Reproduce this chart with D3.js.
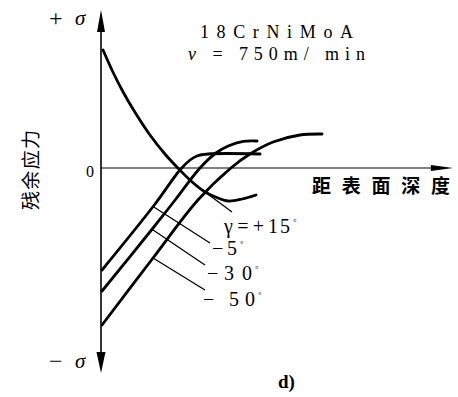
<!DOCTYPE html>
<html>
<head>
<meta charset="utf-8" />
<title>残余应力</title>
<script src="https://d3js.org/d3.v7.min.js"></script>
<style>
  body { margin: 0; background: #fff; }
  svg { display: block; }
</style>
</head>
<body>
<script>
// curves: [depth, stress] (arbitrary units)
const curveP15 = [[0.06, 5.9], [0.35, 4.8], [0.65, 3.8], [0.94, 2.95], [1.44, 1.65], [1.88, 0.7],
                  [2.26, 0], [2.68, -0.7], [3.06, -1.2], [3.44, -1.5], [3.74, -1.65], [4.15, -1.55], [4.56, -1.35]];
const curveM5  = [[0.03, -5.1], [1.59, -1.8], [2.32, -0.1], [2.62, 0.4], [2.82, 0.6], [3.15, 0.7], [4.68, 0.7]];
const curveM30 = [[0.03, -6.15], [1.53, -3.0], [2.18, -1.6], [2.91, 0], [3.38, 0.75], [3.74, 1.1], [4.18, 1.33], [4.59, 1.35]];
const curveM50 = [[0.03, -7.85], [1.53, -4.5], [2.85, -1.6], [3.82, 0], [4.38, 0.7], [5.06, 1.3], [5.85, 1.65], [6.5, 1.7]];

const anglePrefix = ["γ = +", "−", "−", "−"];
const angleValues = ["15", "5", "30", "50"];
const leaderDepth = [3.06, 1.53, 1.5, 1.53];
const titleLines = ["18CrNiMoA", "v = 750m/ min"];

const width = 458, height = 397;
const SERIF = '"Liberation Serif", "DejaVu Serif", "Times New Roman", serif';
const CJK = '"Noto Sans CJK SC", sans-serif';

const svg = d3.select("body").append("svg")
  .attr("width", width)
  .attr("height", height);

svg.append("rect").attr("width", width).attr("height", height).attr("fill", "#fff");

const x = d3.scaleLinear().domain([0, 10.35]).range([101, 453]);
const y = d3.scaleLinear().domain([-10.25, 7.9]).range([373, 10]);

// axes
svg.append("line")
  .attr("x1", x(0)).attr("x2", x(0))
  .attr("y1", y(7.6)).attr("y2", y(-9.9))
  .attr("stroke", "#000").attr("stroke-width", 1.6);
svg.append("line")
  .attr("x1", x(0)).attr("x2", x(9.8))
  .attr("y1", y(0)).attr("y2", y(0))
  .attr("stroke", "#000").attr("stroke-width", 1);

// arrow heads
const tri = (pts) => "M" + pts.map(p => p.join(",")).join("L") + "Z";
svg.append("path").attr("d", tri([[x(0), y(7.9)], [x(0) - 4, y(6.8)], [x(0) + 4, y(6.8)]])).attr("fill", "#000");
svg.append("path").attr("d", tri([[x(0), y(-10.25)], [x(0) - 4.5, y(-9.2)], [x(0) + 4.5, y(-9.2)]])).attr("fill", "#000");
svg.append("path").attr("d", tri([[x(10.35), y(0)], [x(9.7), y(0) - 3], [x(9.7), y(0) + 3]])).attr("fill", "#000");

// curves
const line = d3.line()
  .x(d => x(d[0]))
  .y(d => y(d[1]))
  .curve(d3.curveCatmullRom.alpha(0.5));

const curves = [curveP15, curveM5, curveM30, curveM50];
svg.append("g")
  .selectAll("path")
  .data(curves)
  .join("path")
  .attr("d", line)
  .attr("fill", "none")
  .attr("stroke", "#000")
  .attr("stroke-width", 2.8)
  .attr("stroke-linecap", "round");

// point on curve at given depth (linear between read points)
function stressAt(c, d) {
  for (let i = 1; i < c.length; i++) {
    if (d <= c[i][0]) {
      const t = (d - c[i - 1][0]) / (c[i][0] - c[i - 1][0]);
      return c[i - 1][1] + t * (c[i][1] - c[i - 1][1]);
    }
  }
  return c[c.length - 1][1];
}

// leader lines and angle labels
const leaderEnds = [[232, 212], [210, 243], [205, 265], [205, 290]];
// [prefix x, baseline, prefix width, number x, number width]
const labelPos = [[224, 233, 40, 268, 22], [212, 255, 0, 227, 10], [207, 280, 0, 224, 28], [203, 306, 0, 229, 26]];

curves.forEach(function (c, i) {
  svg.append("line")
    .attr("x1", x(leaderDepth[i])).attr("y1", y(stressAt(c, leaderDepth[i])))
    .attr("x2", leaderEnds[i][0]).attr("y2", leaderEnds[i][1])
    .attr("stroke", "#000").attr("stroke-width", 1.3);
  const p = labelPos[i];
  const pre = svg.append("text")
    .attr("font-family", SERIF)
    .attr("x", p[0]).attr("y", p[1])
    .attr("font-size", 20)
    .text(anglePrefix[i]);
  if (p[2]) pre.attr("textLength", p[2]).attr("lengthAdjust", "spacing");
  svg.append("text")
    .attr("font-family", SERIF)
    .attr("x", p[3]).attr("y", p[1])
    .attr("font-size", 20)
    .attr("textLength", p[4]).attr("lengthAdjust", "spacing")
    .text(angleValues[i]);
  svg.append("text")
    .attr("font-family", SERIF)
    .attr("x", p[3] + p[4] + 3).attr("y", p[1] - 8)
    .attr("font-size", 9)
    .text("°");
});

// axis end labels
svg.append("text").attr("font-family", SERIF)
  .attr("x", 49).attr("y", 26).attr("font-size", 24)
  .text("+");
svg.append("text").attr("font-family", SERIF)
  .attr("x", 75).attr("y", 25).attr("font-size", 21).attr("font-style", "italic")
  .text("σ");
svg.append("text").attr("font-family", SERIF)
  .attr("x", 49).attr("y", 369).attr("font-size", 24)
  .text("−");
svg.append("text").attr("font-family", SERIF)
  .attr("x", 75).attr("y", 368).attr("font-size", 21).attr("font-style", "italic")
  .text("σ");
svg.append("text").attr("font-family", SERIF)
  .attr("x", 86).attr("y", 177).attr("font-size", 16)
  .text("0");

svg.append("text").attr("font-family", SERIF)
  .attr("x", 200).attr("y", 38).attr("font-size", 18)
  .attr("textLength", 153).attr("lengthAdjust", "spacing")
  .text(titleLines[0]);
svg.append("text").attr("font-family", SERIF)
  .attr("x", 188).attr("y", 60).attr("font-size", 18)
  .attr("textLength", 177).attr("lengthAdjust", "spacing")
  .html('<tspan font-style="italic">v</tspan>' + titleLines[1].slice(1));

svg.append("text").attr("font-family", CJK)
  .attr("x", 312).attr("y", 193).attr("font-size", 19).attr("font-weight", "bold")
  .attr("textLength", 138).attr("lengthAdjust", "spacing")
  .text("距表面深度");

svg.append("text").attr("font-family", CJK)
  .attr("transform", "translate(38,170) rotate(-90)")
  .attr("text-anchor", "middle")
  .attr("font-size", 19)
  .attr("textLength", 80).attr("lengthAdjust", "spacing")
  .text("残余应力");

svg.append("text").attr("font-family", SERIF)
  .attr("x", 278).attr("y", 388).attr("font-size", 19).attr("font-weight", "bold")
  .text("d)");
</script>
</body>
</html>
